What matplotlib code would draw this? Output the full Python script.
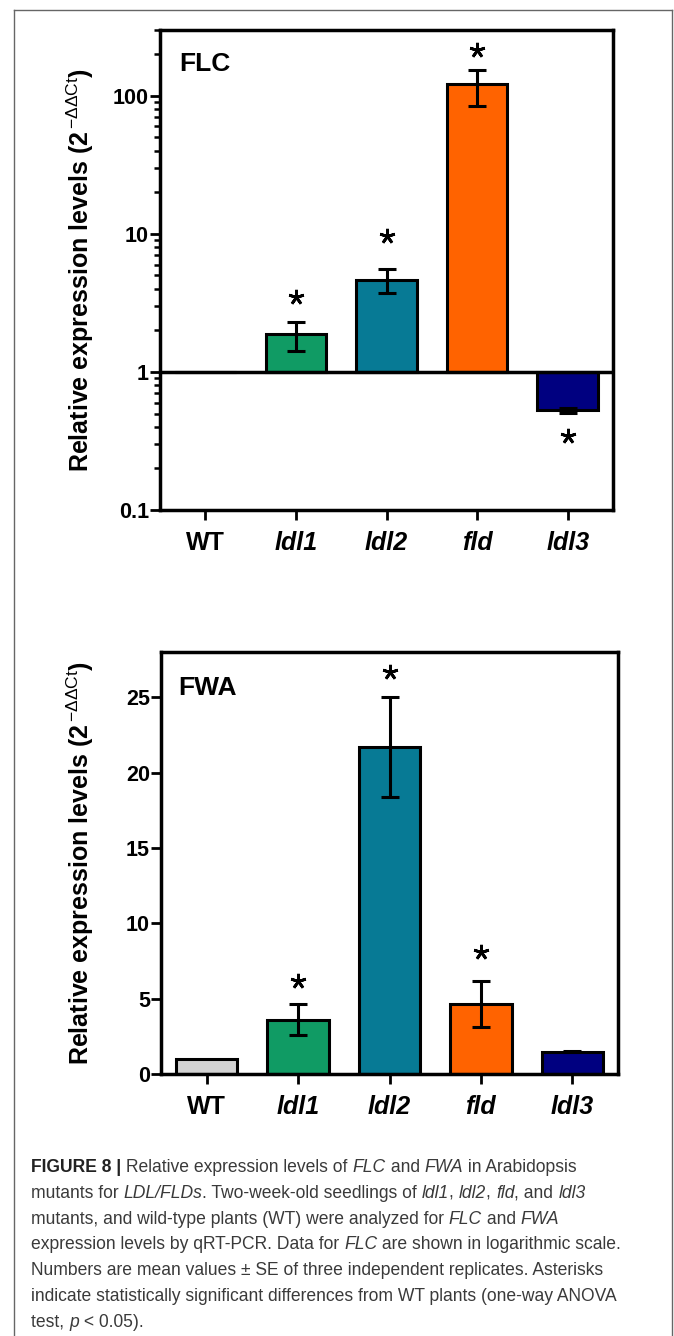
import matplotlib
matplotlib.use('Agg')
import matplotlib.pyplot as plt
import numpy as np
from matplotlib import font_manager
from matplotlib.lines import Line2D

# data
genotypes = ['WT', 'ldl1', 'ldl2', 'fld', 'ldl3']
bar_colors = ['#D3D3D3', '#109B64', '#077A95', '#FF6300', '#000080']

flc_mean = [1.0, 1.87, 4.63, 121.0, 0.53]
flc_lo = [1.0, 1.41, 3.71, 84.0, 0.505]
flc_hi = [1.0, 2.30, 5.53, 154.0, 0.55]
flc_star = [np.nan, 3.5, 9.6, 215.0, 0.344]

fwa_mean = [1.0, 3.59, 21.7, 4.65, 1.46]
fwa_lo = [1.0, 2.60, 18.35, 3.15, 1.43]
fwa_hi = [1.0, 4.65, 25.0, 6.18, 1.50]
fwa_star = [np.nan, 6.14, 26.7, 8.1, np.nan]

W, H = 674, 1336
plt.rcParams['font.family'] = ['Liberation Sans', 'DejaVu Sans']
plt.rcParams['mathtext.fontset'] = 'custom'
plt.rcParams['mathtext.rm'] = 'Liberation Sans'
plt.rcParams['mathtext.it'] = 'Liberation Sans:italic'
plt.rcParams['mathtext.bf'] = 'Liberation Sans:bold'

fig = plt.figure(figsize=(W / 100, H / 100), dpi=100)


def px_axes(left, top, right, bottom):
    return fig.add_axes([left / W, 1 - bottom / H, (right - left) / W, (bottom - top) / H])


def style_axes(ax):
    for s in ax.spines.values():
        s.set_linewidth(2.5)
    ax.tick_params(axis='both', which='major', direction='out', length=7, width=2,
                   labelsize=15.5, pad=1)
    ax.tick_params(axis='x', length=7, width=2, labelsize=18, pad=8)
    ax.tick_params(axis='y', which='minor', direction='out', length=4.5, width=1.8)
    x = np.arange(len(genotypes))
    ax.set_xticks(x)
    ax.set_xticklabels(genotypes)
    for i, lab in enumerate(ax.get_xticklabels()):
        lab.set_fontweight('bold')
        if i > 0:
            lab.set_fontstyle('italic')
    for lab in ax.get_yticklabels():
        lab.set_fontweight('bold')
    ax.set_xlim(-0.5, len(genotypes) - 0.5)


x = np.arange(len(genotypes))
idx = np.arange(1, len(genotypes))

# ---- FLC (log scale)
ax1 = px_axes(160, 30, 613, 510)
ax1.set_yscale('log')
ax1.set_ylim(0.1, 300)
m = np.array(flc_mean)
ax1.bar(x, m - 1, bottom=1, width=0.67, color=bar_colors, edgecolor='k', linewidth=2.2, zorder=2)
ax1.axhline(1, color='k', lw=2.5, zorder=3)
ax1.errorbar(x[idx], m[idx],
             yerr=[m[idx] - np.array(flc_lo)[idx], np.array(flc_hi)[idx] - m[idx]],
             fmt='none', ecolor='k', elinewidth=2.2, capsize=6.8, capthick=2.2, zorder=4)
ax1.plot(x, flc_star, ls='none', marker=(5, 2, 0), ms=11, mew=2, color='k')
ax1.set_yticks([0.1, 1, 10, 100])
ax1.set_yticklabels(['0.1', '1', '10', '100'])
ax1.yaxis.set_minor_locator(matplotlib.ticker.LogLocator(base=10, subs=np.arange(2, 10), numticks=20))
ax1.yaxis.set_minor_formatter(matplotlib.ticker.NullFormatter())
style_axes(ax1)
ax1.text(179 / W, 1 - 52 / H, 'FLC', transform=fig.transFigure, fontsize=19,
         fontweight='bold', va='top', ha='left')

# ---- FWA (linear)
ax2 = px_axes(161, 652, 618, 1074)
m2 = np.array(fwa_mean)
ax2.bar(x, m2, width=0.67, color=bar_colors, edgecolor='k', linewidth=2.2, zorder=2)
ax2.errorbar(x[idx], m2[idx],
             yerr=[m2[idx] - np.array(fwa_lo)[idx], np.array(fwa_hi)[idx] - m2[idx]],
             fmt='none', ecolor='k', elinewidth=2.2, capsize=6.8, capthick=2.2, zorder=4)
ax2.plot(x, fwa_star, ls='none', marker=(5, 2, 0), ms=11, mew=2, color='k')
ax2.set_ylim(0, 28)
ax2.set_yticks([0, 5, 10, 15, 20, 25])
style_axes(ax2)
ax2.text(178 / W, 1 - 676 / H, 'FWA', transform=fig.transFigure, fontsize=19,
         fontweight='bold', va='top', ha='left')

ylabel = r'Relative expression levels (2$^{\,\mathrm{-\Delta\Delta Ct}}$)'
fig.text(80 / W, 1 - 270 / H, ylabel, rotation=90, ha='center', va='center',
         fontsize=18, fontweight='bold')
fig.text(80 / W, 1 - 863 / H, ylabel, rotation=90, ha='center', va='center',
         fontsize=18, fontweight='bold')

# ---- outer frame
fc = '#666666'
fig.add_artist(Line2D([14 / W, 14 / W], [0, 1 - 10 / H], transform=fig.transFigure, color=fc, lw=1))
fig.add_artist(Line2D([672 / W, 672 / W], [0, 1 - 10 / H], transform=fig.transFigure, color=fc, lw=1))
fig.add_artist(Line2D([14 / W, 672 / W], [1 - 10 / H, 1 - 10 / H], transform=fig.transFigure, color=fc, lw=1))

# ---- caption
names = {f.name for f in font_manager.fontManager.ttflist}
cap_family = 'Liberation Sans Narrow' if 'Liberation Sans Narrow' in names else 'Liberation Sans'
cap_color = '#3a3a3a'
N, I, B = 'n', 'i', 'b'
caption = [
    [('FIGURE 8 | ', B), ('Relative expression levels of ', N), ('FLC', I), (' and ', N),
     ('FWA', I), (' in Arabidopsis', N)],
    [('mutants for ', N), ('LDL/FLDs', I), ('. Two-week-old seedlings of ', N), ('ldl1', I),
     (', ', N), ('ldl2', I), (', ', N), ('fld', I), (', and ', N), ('ldl3', I)],
    [('mutants, and wild-type plants (WT) were analyzed for ', N), ('FLC', I), (' and ', N),
     ('FWA', I)],
    [('expression levels by qRT-PCR. Data for ', N), ('FLC', I),
     (' are shown in logarithmic scale.', N)],
    [('Numbers are mean values \u00b1 SE of three independent replicates. Asterisks', N)],
    [('indicate statistically significant differences from WT plants (one-way ANOVA', N)],
    [('test, ', N), ('p', I), (' < 0.05).', N)],
]

renderer = fig.canvas.get_renderer()


def props(kind, size):
    p = dict(family=cap_family, fontsize=size, color=cap_color)
    if kind == I:
        p['fontstyle'] = 'italic'
    if kind == B:
        p['fontweight'] = 'bold'
        p['color'] = '#222222'
    return p


def seg_width(s, kind, size):
    t = fig.text(0, 0, 'x' + s + 'x', **props(kind, size))
    w1 = t.get_window_extent(renderer).width
    t.remove()
    t = fig.text(0, 0, 'xx', **props(kind, size))
    w2 = t.get_window_extent(renderer).width
    t.remove()
    return w1 - w2


ref = sum(seg_width(s, k, 10) for s, k in caption[3])
cap_size = 10 * 595 / ref

for li, line in enumerate(caption):
    xp = 31
    yb = 1172 + 25.8 * li
    for s, k in line:
        fig.text(xp / W, 1 - yb / H, s, ha='left', va='baseline', **props(k, cap_size))
        xp += seg_width(s, k, cap_size)

fig.savefig('out.png', dpi=100, facecolor='white')
